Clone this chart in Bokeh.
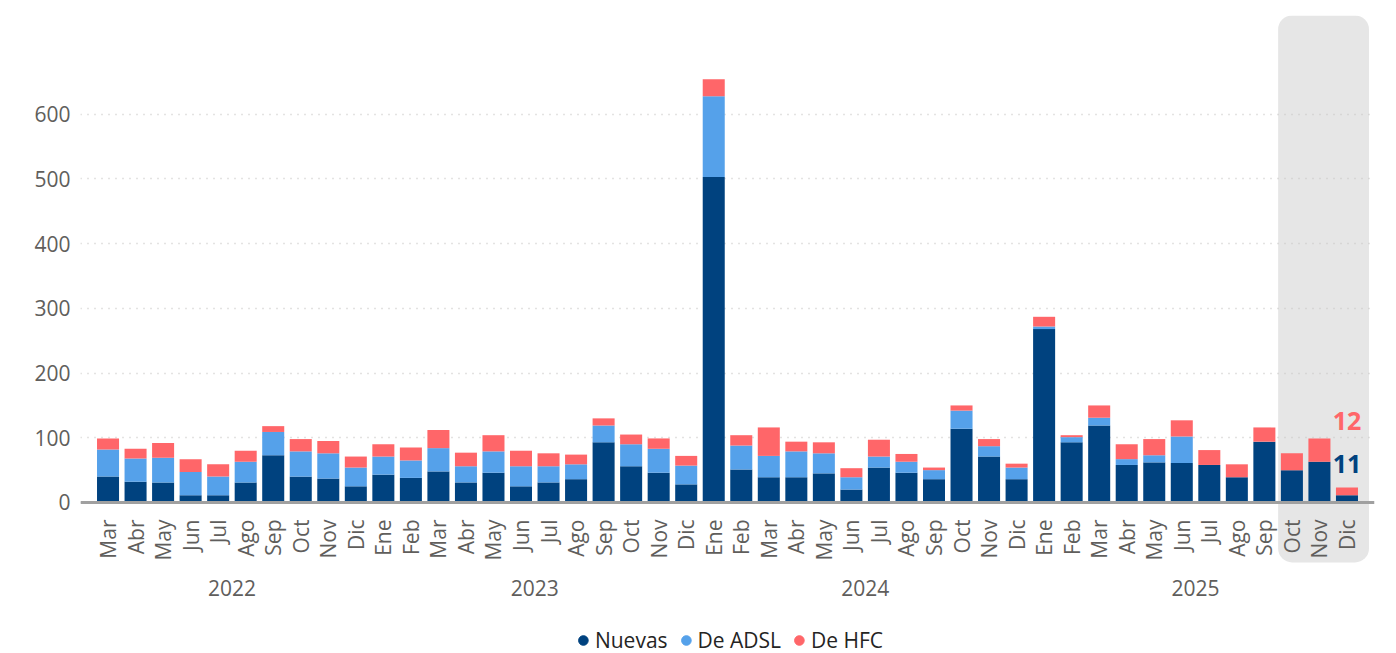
import math
from bokeh.plotting import figure
from bokeh.layouts import column
from bokeh.models import (FactorRange, ColumnDataSource, BoxAnnotation, Legend, LegendItem,
                          FixedTicker, Span, Range1d)
from bokeh.core.properties import value
from bokeh.embed import file_html
from bokeh.resources import INLINE

years = ["2022"] * 10 + ["2023"] * 12 + ["2024"] * 12 + ["2025"] * 12
months = (["Mar", "Abr", "May", "Jun", "Jul", "Ago", "Sep", "Oct", "Nov", "Dic"]
          + ["Ene", "Feb", "Mar", "Abr", "May", "Jun", "Jul", "Ago", "Sep", "Oct", "Nov", "Dic"] * 3)

nuevas = [40, 32, 31, 11, 11, 31, 73, 40, 37, 25,
          43, 38, 48, 31, 46, 25, 31, 36, 93, 56, 46, 28,
          503, 51, 39, 39, 45, 20, 54, 46, 36, 114, 71, 36,
          268, 93, 119, 58, 62, 61, 58, 39, 94, 50, 63, 11]
de_adsl = [42, 36, 38, 36, 29, 32, 36, 39, 39, 29,
           28, 27, 36, 25, 33, 31, 25, 23, 26, 34, 37, 29,
           125, 37, 33, 40, 31, 19, 17, 17, 14, 28, 16, 18,
           4, 8, 12, 9, 11, 41, 0, 0, 0, 0, 0, 0]
de_hfc = [17, 15, 23, 20, 19, 17, 9, 19, 19, 17,
          19, 20, 28, 21, 25, 24, 20, 15, 11, 15, 16, 15,
          26, 16, 44, 15, 17, 14, 26, 12, 4, 8, 11, 6,
          15, 3, 19, 23, 25, 25, 23, 20, 22, 26, 36, 12]

series = ["Nuevas", "De ADSL", "De HFC"]
colors = ["#00427F", "#55A1EA", "#FF6669"]
y_ticks = [0, 100, 200, 300, 400, 500, 600]

FONT = "Open Sans"
GREY_TXT = "#605E5C"
factors = list(zip(years, months))
n = len(factors)

# year group centres in the range's synthetic coordinates (one unit per month)
year_names = list(dict.fromkeys(years))
year_centres = []
start = 0
for y in year_names:
    cnt = years.count(y)
    year_centres.append(start + cnt / 2)
    start += cnt

src = ColumnDataSource(dict(x=factors, Nuevas=nuevas, **{"De ADSL": de_adsl, "De HFC": de_hfc}))

# frame reaches below the zero line so the highlight box can cover the month labels
p = figure(width=1390, height=610, output_backend="svg", toolbar_location=None,
           x_range=FactorRange(*factors, group_padding=0, factor_padding=0, subgroup_padding=0,
                               range_padding=0.5, range_padding_units="absolute"),
           y_range=Range1d(-151.5, 752.7),
           min_border_left=80, min_border_right=16, min_border_top=15, min_border_bottom=10)
p.outline_line_color = None
p.background_fill_color = "white"

box = BoxAnnotation(left=n - 3, right=n + 0.3, bottom=-92.7,
                    fill_color="#E6E6E6", fill_alpha=1, line_color=None,
                    border_radius=14, level="image")
p.add_layout(box)

p.vbar_stack(series, x="x", width=0.8, source=src, color=colors, line_color=None)

# zero line acting as the x axis line
p.add_layout(Span(location=0, dimension="width", line_color="#A0A0A0", line_width=3))

# labels for the last bar
last_total = nuevas[-1] + de_adsl[-1] + de_hfc[-1]
p.text(x=[factors[-1]], y=[last_total], text=[str(de_hfc[-1])], y_offset=-67,
       text_align="center", text_baseline="middle", text_color=colors[2],
       text_font=value(FONT), text_font_size="25px", text_font_style="bold")
p.text(x=[factors[-1]], y=[last_total], text=[str(nuevas[-1])], y_offset=-24,
       text_align="center", text_baseline="middle", text_color=colors[0],
       text_font=value(FONT), text_font_size="25px", text_font_style="bold")

# year group labels under the month labels
p.text(x=year_centres, y=[0] * len(year_centres), text=year_names, y_offset=86,
       text_align="center", text_baseline="middle", text_color=GREY_TXT,
       text_font=value(FONT), text_font_size="21px")

p.xgrid.grid_line_color = None
p.ygrid.grid_line_color = "#C8C6C4"
p.ygrid.grid_line_dash = "1 6"
p.ygrid.grid_line_width = 1.5
p.ygrid.ticker = FixedTicker(ticks=y_ticks)

p.yaxis.ticker = FixedTicker(ticks=y_ticks)
p.yaxis.axis_line_color = None
p.yaxis.major_tick_line_color = None
p.yaxis.minor_tick_line_color = None
p.yaxis.major_label_text_font = FONT
p.yaxis.major_label_text_font_size = "21px"
p.yaxis.major_label_text_color = GREY_TXT
p.yaxis.major_label_standoff = 4

# month labels (group level hidden; years drawn above as text)
xa = p.xaxis[0]
xa.axis_line_color = None
xa.major_tick_line_color = None
xa.major_label_orientation = math.pi / 2
xa.major_label_text_font = FONT
xa.major_label_text_font_size = "21px"
xa.major_label_text_color = GREY_TXT
xa.major_label_standoff = -87
xa.group_text_font_size = "0px"
xa.group_text_alpha = 0
xa.separator_line_color = None

# legend strip below, with circle markers
lg = figure(width=1390, height=43, output_backend="svg", toolbar_location=None,
            x_range=Range1d(0, 1), y_range=Range1d(0, 1),
            min_border_left=80, min_border_right=16, min_border_top=17, min_border_bottom=0)
lg.axis.visible = False
lg.grid.grid_line_color = None
lg.outline_line_color = None
items = []
for name, c in zip(series, colors):
    r = lg.scatter(x=[0.5], y=[float("nan")], marker="circle", size=14, color=c)
    items.append(LegendItem(label=name, renderers=[r]))
legend = Legend(items=items, orientation="horizontal", location="center",
                label_text_font=FONT, label_text_font_size="21px", label_text_color="#252423",
                glyph_width=24, glyph_height=24, spacing=6, label_standoff=0,
                border_line_color=None, background_fill_alpha=0, margin=0, padding=0)
lg.add_layout(legend)

layout = column(p, lg, spacing=0)
open("out.html", "w").write(file_html(layout, INLINE))
